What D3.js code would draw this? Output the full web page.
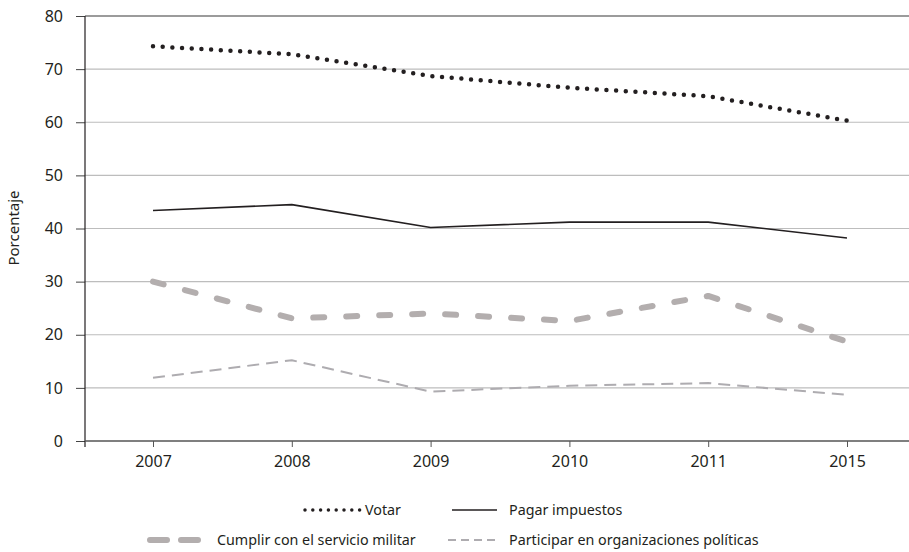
<!DOCTYPE html>
<html><head><meta charset="utf-8">
<script src="https://cdn.jsdelivr.net/npm/d3@7/dist/d3.min.js"></script>
<style>body{margin:0;background:#fff}svg{display:block}text{font-family:"Noto Sans",sans-serif;fill:#231f20}</style>
</head><body><svg id="c" width="909" height="552"></svg>
<script>
const years = ["2007","2008","2009","2010","2011","2015"];
const votar = [74.3, 72.8, 68.7, 66.5, 64.9, 60.3];
const pagar = [43.4, 44.5, 40.2, 41.2, 41.2, 38.2];
const cumplir = [30.0, 23.1, 24.0, 22.6, 27.3, 18.7];
const participar = [11.9, 15.2, 9.3, 10.4, 10.9, 8.7];
const yTicks = [0,10,20,30,40,50,60,70,80];
const seriesNames = ["Votar","Pagar impuestos","Cumplir con el servicio militar","Participar en organizaciones políticas"];

const svg = d3.select("#c");
const pLeft = 85, pRight = 909, pTop = 16, pBottom = 441;
const x = d3.scalePoint().domain(years).range([153, 847]);
const y = d3.scaleLinear().domain([0,80]).range([pBottom, pTop]);

// grid
svg.append("g").selectAll("line").data(yTicks.filter(d=>d>0)).join("line")
  .attr("x1", pLeft).attr("x2", pRight).attr("y1", d=>y(d)).attr("y2", d=>y(d))
  .attr("stroke", d=> d===80 ? "#7a7a7a" : "#bdbdbd").attr("stroke-width", d=> d===80?1.5:1.2);

// y axis
const yAxis = svg.append("g").attr("transform", `translate(${pLeft},0)`)
  .call(d3.axisLeft(y).tickValues(yTicks).tickSize(9).tickPadding(13));
yAxis.select(".domain").remove();
yAxis.selectAll(".tick line").attr("stroke","#444");
yAxis.selectAll("text").style("font-size","16px").attr("fill","#231f20");
svg.append("line").attr("x1",pLeft).attr("x2",pLeft).attr("y1",pTop).attr("y2",pBottom+6).attr("stroke","#231f20").attr("stroke-width",1.2);

// x axis
const xAxis = svg.append("g").attr("transform", `translate(0,${pBottom})`)
  .call(d3.axisBottom(x).tickSize(6).tickPadding(9));
xAxis.select(".domain").remove();
xAxis.selectAll(".tick line").attr("stroke","#555");
xAxis.selectAll("text").style("font-size","16px").attr("fill","#231f20");
svg.append("line").attr("x1",pLeft).attr("x2",pRight).attr("y1",pBottom).attr("y2",pBottom).attr("stroke","#555").attr("stroke-width",1.3);

svg.append("text").attr("transform","translate(19,228) rotate(-90)").attr("text-anchor","middle")
  .style("font-size","15px").text("Porcentaje");

const styles = [
  {data: votar, stroke:"#231f20", w:4.5, dash:"0,9.7", cap:"round"},
  {data: pagar, stroke:"#231f20", w:1.6, dash:null, cap:"butt"},
  {data: cumplir, stroke:"#b3aeae", w:6, dash:"11,22", cap:"round"},
  {data: participar, stroke:"#aeacb0", w:2, dash:"12,7", cap:"butt"}
];
const line = d3.line().x((d,i)=>x(years[i])).y(d=>y(d));
styles.forEach(s=>{
  svg.append("path").attr("d", line(s.data)).attr("fill","none")
    .attr("stroke", s.stroke).attr("stroke-width", s.w).attr("stroke-dasharray", s.dash)
    .attr("stroke-linecap", s.cap).attr("stroke-linejoin","round");
});

// legend
const leg = [
  {i:0, x1:305, x2:360, tx:365, ty:510, dash:"0,7.8", w:3.5},
  {i:1, x1:452, x2:497, tx:509, ty:510, dash:null, w:1.5},
  {i:2, x1:150, x2:202, tx:217, ty:540, dash:"17,14", w:6},
  {i:3, x1:448, x2:497, tx:509, ty:540, dash:"8,5", w:2}
];
leg.forEach(l=>{
  const s = styles[l.i];
  svg.append("line").attr("x1",l.x1).attr("x2",l.x2).attr("y1",l.ty).attr("y2",l.ty)
    .attr("stroke",s.stroke).attr("stroke-width",l.w).attr("stroke-dasharray",l.dash)
    .attr("stroke-linecap", l.i===0||l.i===2 ? "round" : "butt");
  svg.append("text").attr("x",l.tx).attr("y",l.ty).attr("dy","0.35em")
    .style("font-size","14.3px").text(seriesNames[l.i]);
});
</script></body></html>
